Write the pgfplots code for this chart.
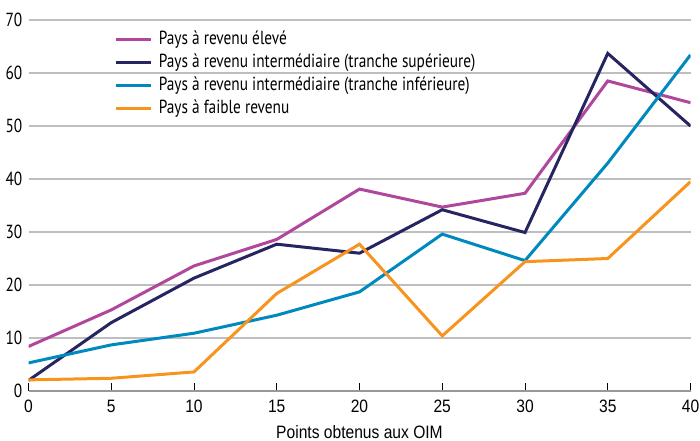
\documentclass[border=0pt]{standalone}
\usepackage{fontspec}
\setmainfont{Liberation Sans}
\newfontfamily\condfont[FakeStretch=0.81]{PT Sans}
\newfontfamily\narrowfont[FakeStretch=0.87]{Liberation Sans}
\usepackage{pgfplots}
\pgfplotsset{compat=1.18}
\usetikzlibrary{calc}

\definecolor{cHigh}{HTML}{B0479D}
\definecolor{cUpper}{HTML}{262461}
\definecolor{cLower}{HTML}{0089BF}
\definecolor{cLow}{HTML}{F7941E}
\definecolor{cGrid}{HTML}{BEBEC0}

\begin{document}
\begin{tikzpicture}
\begin{axis}[
    scale only axis, width=662bp, height=371bp,
    xmin=0, xmax=40, ymin=0, ymax=70,
    xtick={0,5,...,40}, ytick={0,10,...,70},
    axis lines*=left,
    y axis line style={draw=none},
    x axis line style={cGrid!80!black, line width=1.5bp},
    ytick style={draw=none},
    xtick style={black, line width=1bp},
    xtick align=inside, major tick length=8bp,
    ymajorgrids, major grid style={cGrid, line width=2bp},
    /pgf/number format/assume math mode=true,
    yticklabel style={font=\condfont\fontsize{19}{20}\selectfont, inner sep=0pt, xshift=-6bp},
    xticklabel style={font=\narrowfont\fontsize{18}{20}\selectfont, inner sep=0pt, yshift=-9bp},
    xlabel={Points obtenus aux OIM},
    xlabel style={font=\narrowfont\fontsize{18}{20}\selectfont, inner sep=0pt, yshift=-12bp},
    legend style={draw=none, fill=none, inner sep=0pt,
        at={(rel axis cs:0.13,0.976)}, anchor=north west,
        font=\condfont\fontsize{19}{20}\selectfont, row sep=3.2bp,
        nodes={inner sep=0pt, text depth=5bp, text height=15bp}},
    legend cell align=left,
    legend image code/.code={\draw[#1, line width=3bp] (0bp,0bp) -- (35bp,0bp);},
    every axis plot/.append style={line width=3bp},
]
\addplot[cHigh] coordinates {(0,8.4) (5,15.3) (10,23.6) (15,28.6) (20,38.1) (25,34.7) (30,37.3) (35,58.5) (40,54.4)};
\addlegendentry{\hspace{6bp}Pays à revenu élevé}
\addplot[cUpper] coordinates {(0,2.0) (5,12.9) (10,21.3) (15,27.7) (20,26.0) (25,34.2) (30,29.9) (35,63.7) (40,50.0)};
\addlegendentry{\hspace{6bp}Pays à revenu intermédiaire (tranche supérieure)}
\addplot[cLower] coordinates {(0,5.3) (5,8.7) (10,10.9) (15,14.3) (20,18.7) (25,29.6) (30,24.6) (35,43.0) (40,63.4)};
\addlegendentry{\hspace{6bp}Pays à revenu intermédiaire (tranche inférieure)}
\addplot[cLow] coordinates {(0,2.1) (5,2.4) (10,3.6) (15,18.4) (20,27.7) (25,10.4) (30,24.4) (35,25.0) (40,39.5)};
\addlegendentry{\hspace{6bp}Pays à faible revenu}
\end{axis}
\pgfresetboundingbox
\useasboundingbox ($(current axis.south west)+(-28.5bp,-50bp)$) rectangle ($(current axis.north east)+(9.5bp,20bp)$);
\end{tikzpicture}
\end{document}
